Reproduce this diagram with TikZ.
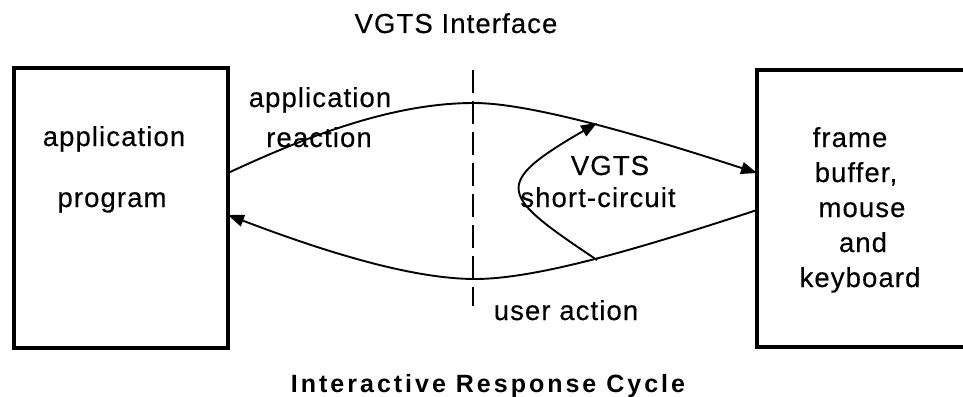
\documentclass[tikz,border=0pt]{standalone}
\usepackage{fontspec}
\setmainfont{Liberation Sans}
\newfontfamily\labfont[LetterSpace=4,FakeBold=0.3]{Liberation Sans}
\newfontfamily\capfont[LetterSpace=12]{Liberation Sans}
\usetikzlibrary{arrows.meta}
\begin{document}
\begin{tikzpicture}[x=1pt,y=-1pt,
  box/.style={draw,line width=3.2pt,rectangle,inner sep=0pt,outer sep=0pt},
  lab/.style={inner sep=0pt,anchor=base,font={\labfont\fontsize{27.5}{32}\selectfont}},
  captxt/.style={inner sep=0pt,anchor=base,font={\capfont\bfseries\fontsize{25}{30}\selectfont}},
  flow/.style={line width=1.9pt},
  tip/.style={-{Triangle[length=16pt,width=12pt]}},
  iface/.style={line width=1.3pt,dash pattern=on 23pt off 8pt}
]
\useasboundingbox (0,0) rectangle (963,396);
\clip (0,0) rectangle (963,396);
\fill[white] (0,0) rectangle (963,396);

% boxes
\node[box,minimum width=214pt,minimum height=280pt] (lbox) at (121,208) {};
\node[box,minimum width=240pt,minimum height=277pt] (rbox) at (877,208.5) {};

% interface line
\coordinate (ifTop) at (473,70);
\coordinate (ifBot) at (473,306);
\draw[iface] (ifTop) -- (ifBot);

% texts
\node[lab] (title) at (456,33) {VGTS Interface};
\node[lab] (lt1) at (114,146) {application};
\node[lab] (lt2) at (112,207) {program};
\node[lab] (rt1) at (850,147) {frame};
\node[lab] (rt2) at (856,182) {buffer,};
\node[lab] (rt3) at (862,217) {mouse};
\node[lab] (rt4) at (863,252) {and};
\node[lab] (rt5) at (860,287) {keyboard};
\node[lab] (ar1) at (320,107) {application};
\node[lab] (ar2) at (319,147) {reaction};
\node[lab] (sc1) at (610,175) {VGTS};
\node[lab] (sc2) at (598,207) {short-circuit};
\node[lab] (ua) at (566,320) {user action};
\node[captxt] (cap) at (488,392) {Interactive Response Cycle};

% upper curve: application reaction
\draw[flow,tip] ([yshift=35pt]lbox.east) .. controls (320,130) and (400,103) .. (474,103)
   .. controls (530,103) and (640,135) .. ([yshift=35.5pt]rbox.west);
% lower curve: user action
\draw[flow,tip] ([yshift=-1.5pt]rbox.west) .. controls (650,245) and (540,279) .. (475,279)
   .. controls (410,279) and (320,250) .. ([yshift=-7pt]lbox.east);
% short circuit
\coordinate (scStart) at (597,260);
\coordinate (scEnd) at (597,123);
\draw[flow,tip] (scStart) .. controls (500,195) and (490,185) .. (scEnd);
\end{tikzpicture}
\end{document}
